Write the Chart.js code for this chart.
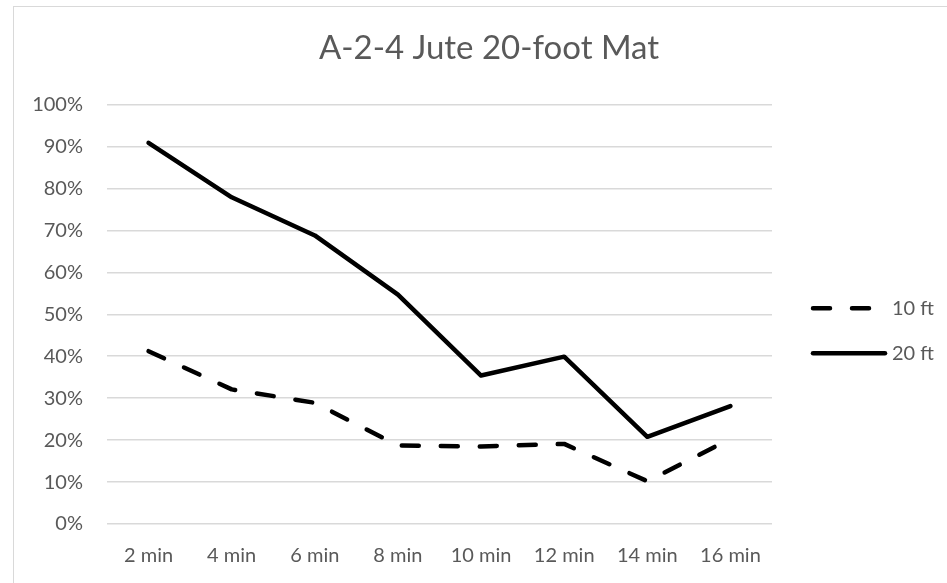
<!DOCTYPE html>
<html>
<head>
<meta charset="utf-8">
<script src="https://cdn.jsdelivr.net/npm/chart.js@4"></script>
<style>
    html, body { margin: 0; padding: 0; background: #fff; }
    #wrap { position: relative; width: 947px; height: 583px; overflow: hidden; }
    #frame { position: absolute; left: 13px; top: 6px; width: 960px; height: 600px; border: 1px solid #d9d9d9; box-sizing: border-box; }
    canvas { position: absolute; left: 0; top: 0; }
</style>
</head>
<body>
<div id="wrap">
    <div id="frame"></div>
    <canvas id="juteChart" width="947" height="583"></canvas>
</div>
<script>
    var chartTitle = 'A-2-4 Jute 20-foot Mat';
    var timeLabels = ['2 min', '4 min', '6 min', '8 min', '10 min', '12 min', '14 min', '16 min'];
    var tenFtValues = [41.2, 32.1, 28.9, 18.7, 18.5, 19.1, 10.2, 20.3];
    var twentyFtValues = [90.9, 77.9, 68.8, 54.7, 35.4, 39.9, 20.8, 28.1];
    var seriesNames = ['10 ft', '20 ft'];

    var textColor = '#595959';
    var gridColor = '#d9d9d9';

    // legend drawn as plain lines beside the plot, like the spreadsheet one
    var lineLegend = {
        id: 'lineLegend',
        afterDraw: function(chart) {
            var ctx = chart.ctx;
            var area = chart.chartArea;
            var x0 = area.right + 41;
            var y0 = (area.top + area.bottom) / 2 - 6;
            ctx.save();
            chart.data.datasets.forEach(function(ds, i) {
                var y = y0 + i * 45;
                ctx.beginPath();
                ctx.lineWidth = ds.borderWidth;
                ctx.strokeStyle = ds.borderColor;
                ctx.lineCap = 'round';
                ctx.setLineDash(ds.borderDash || []);
                ctx.moveTo(x0, y);
                ctx.lineTo(x0 + 72, y);
                ctx.stroke();
                ctx.setLineDash([]);
                ctx.fillStyle = textColor;
                ctx.font = '20px Lato';
                ctx.textBaseline = 'middle';
                ctx.fillText(ds.label, x0 + 79, y);
            });
            ctx.restore();
        }
    };

    var ctx = document.getElementById('juteChart');

    new Chart(ctx, {
        type: 'line',
        data: {
            labels: timeLabels,
            datasets: [{
                label: seriesNames[0],
                data: tenFtValues,
                borderColor: '#000000',
                borderWidth: 4.5,
                borderDash: [17, 22],
                borderCapStyle: 'round',
                borderJoinStyle: 'round',
                pointRadius: 0,
                tension: 0,
                fill: false
            }, {
                label: seriesNames[1],
                data: twentyFtValues,
                borderColor: '#000000',
                borderWidth: 4.5,
                borderCapStyle: 'round',
                borderJoinStyle: 'round',
                pointRadius: 0,
                tension: 0,
                fill: false
            }]
        },
        options: {
            responsive: false,
            animation: false,
            layout: {
                padding: { left: 31, right: 0, top: 6, bottom: 0 }
            },
            plugins: {
                legend: { display: false },
                tooltip: { enabled: false },
                title: {
                    display: true,
                    text: chartTitle,
                    color: textColor,
                    font: { family: 'Lato', size: 33, weight: 'normal' },
                    padding: { top: 23, bottom: 36 }
                }
            },
            scales: {
                x: {
                    offset: true,
                    grid: { display: false, drawTicks: false },
                    border: { display: false },
                    ticks: {
                        color: textColor,
                        font: { family: 'Lato', size: 20 },
                        padding: 20,
                        maxRotation: 0
                    },
                    afterFit: function(scale) { scale.height = 59; }
                },
                y: {
                    min: 0,
                    max: 100,
                    grid: { color: gridColor, lineWidth: 1.5, drawTicks: false },
                    border: { display: false },
                    ticks: {
                        stepSize: 10,
                        color: textColor,
                        font: { family: 'Lato', size: 20 },
                        padding: 24,
                        callback: function(value) { return value + '%'; }
                    },
                    afterFit: function(scale) { scale.width = 76; }
                },
                // empty right-hand strip that leaves room for the legend
                legendSpace: {
                    type: 'linear',
                    position: 'right',
                    display: true,
                    grid: { display: false, drawTicks: false },
                    border: { display: false },
                    ticks: { display: false },
                    afterFit: function(scale) { scale.width = 175; }
                }
            }
        },
        plugins: [lineLegend]
    });
</script>
</body>
</html>
